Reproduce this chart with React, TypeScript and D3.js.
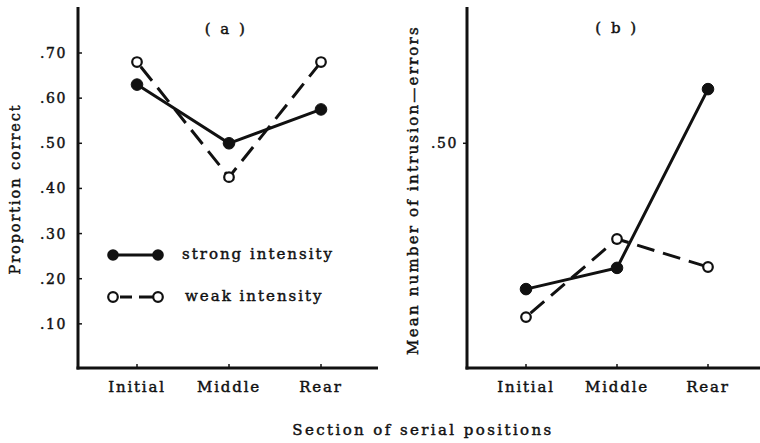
import React from "react";
import { scaleLinear, scalePoint, line } from "d3";

const sections = ["Initial", "Middle", "Rear"];
// panel (a): proportion correct
const strongA = [0.63, 0.5, 0.575];
const weakA = [0.68, 0.425, 0.68];
// panel (b): mean number of intrusion errors
const strongB = [0.177, 0.224, 0.62];
const weakB = [0.115, 0.288, 0.226];
const ticksA = [0.1, 0.2, 0.3, 0.4, 0.5, 0.6, 0.7];
const ticksB = [0.5];

const FONT = "'DejaVu Serif', serif";
const INK = "#111";

const yScale = scaleLinear().domain([0, 0.7]).range([369, 53]);
const xA = scalePoint().domain(sections).range([137, 321]);
const xB = scalePoint().domain(sections).range([526, 708]);

const fmt = (v: number) => "." + Math.round(v * 100).toString().padStart(2, "0");

function Series({ x, values, dashed }: { x: any; values: number[]; dashed: boolean }) {
  const pts = values.map((v, i) => [x(sections[i]), yScale(v)] as [number, number]);
  const path = line()(pts) || "";
  return (
    <g>
      <path d={path} fill="none" stroke={INK} strokeWidth={3} strokeDasharray={dashed ? "18,9" : undefined} strokeDashoffset={dashed ? -6 : undefined} />
      {pts.map((p, i) => (
        <circle key={i} cx={p[0]} cy={p[1]} r={dashed ? 4.8 : 5.8} fill={dashed ? "#fff" : INK} stroke={INK} strokeWidth={dashed ? 2.2 : 1} />
      ))}
    </g>
  );
}

function XLabels({ x }: { x: any }) {
  return (
    <g>
      {sections.map((s) => (
        <g key={s}>
          <line x1={x(s)} x2={x(s)} y1={368} y2={364} stroke={INK} strokeWidth={1.5} />
          <text x={x(s)} y={387} textAnchor="middle" dominantBaseline="central" fontSize={15} letterSpacing={1.8}>
            {s}
          </text>
        </g>
      ))}
    </g>
  );
}

export default function App() {
  return (
    <svg width={760} height={443} style={{ position: "absolute", left: 0, top: 0, background: "#fff" }} fontFamily={FONT} fill={INK}>
      <g stroke={INK} strokeWidth={0.45}>
        {/* text layer: slight stroke to mimic the heavy print */}
        {ticksA.map((t) => (
          <text key={t} x={67} y={yScale(t)} textAnchor="end" dominantBaseline="central" fontSize={14} letterSpacing={1.6}>
            {fmt(t)}
          </text>
        ))}
        {ticksB.map((t) => (
          <text key={t} x={458} y={yScale(t)} textAnchor="end" dominantBaseline="central" fontSize={14} letterSpacing={1.6}>
            {fmt(t)}
          </text>
        ))}
        <XLabels x={xA} />
        <XLabels x={xB} />
        <text x={226} y={29} textAnchor="middle" dominantBaseline="central" fontSize={15} letterSpacing={2.5}>
          ( a )
        </text>
        <text x={617} y={28} textAnchor="middle" dominantBaseline="central" fontSize={15} letterSpacing={2.5}>
          ( b )
        </text>
        <text transform="translate(15,189) rotate(-90)" textAnchor="middle" dominantBaseline="central" fontSize={14.5} letterSpacing={1.9}>
          Proportion correct
        </text>
        <text transform="translate(413,190) rotate(-90)" textAnchor="middle" dominantBaseline="central" fontSize={15} letterSpacing={2.2}>
          Mean number of intrusion—errors
        </text>
        <text x={182} y={254} dominantBaseline="central" fontSize={15} letterSpacing={2}>
          strong intensity
        </text>
        <text x={185} y={296} dominantBaseline="central" fontSize={15} letterSpacing={2}>
          weak intensity
        </text>
        <text x={423} y={430} textAnchor="middle" dominantBaseline="central" fontSize={15} letterSpacing={2.4}>
          Section of serial positions
        </text>
      </g>

      {/* panel a */}
      <line x1={78} x2={78} y1={7} y2={369.5} stroke={INK} strokeWidth={3} />
      <line x1={76.5} x2={378} y1={368} y2={368} stroke={INK} strokeWidth={3} />
      {ticksA.map((t) => (
        <line key={t} x1={78} x2={82} y1={yScale(t)} y2={yScale(t)} stroke={INK} strokeWidth={1.5} />
      ))}
      <Series x={xA} values={strongA} dashed={false} />
      <Series x={xA} values={weakA} dashed={true} />

      {/* legend */}
      <line x1={113} x2={158} y1={255} y2={255} stroke={INK} strokeWidth={3} />
      <circle cx={113} cy={255} r={5.8} fill={INK} />
      <circle cx={158} cy={255} r={5.8} fill={INK} />
      <line x1={113} x2={158} y1={297} y2={297} stroke={INK} strokeWidth={3} strokeDasharray="0,7,12,7,20" />
      <circle cx={113} cy={297} r={4.8} fill="#fff" stroke={INK} strokeWidth={2.2} />
      <circle cx={158} cy={297} r={4.8} fill="#fff" stroke={INK} strokeWidth={2.2} />

      {/* panel b */}
      <line x1={467} x2={467} y1={7} y2={369.5} stroke={INK} strokeWidth={3} />
      <line x1={465.5} x2={760} y1={368} y2={368} stroke={INK} strokeWidth={3} />
      {ticksB.map((t) => (
        <line key={t} x1={463} x2={467} y1={yScale(t)} y2={yScale(t)} stroke={INK} strokeWidth={1.5} />
      ))}
      <Series x={xB} values={strongB} dashed={false} />
      <Series x={xB} values={weakB} dashed={true} />
    </svg>
  );
}
